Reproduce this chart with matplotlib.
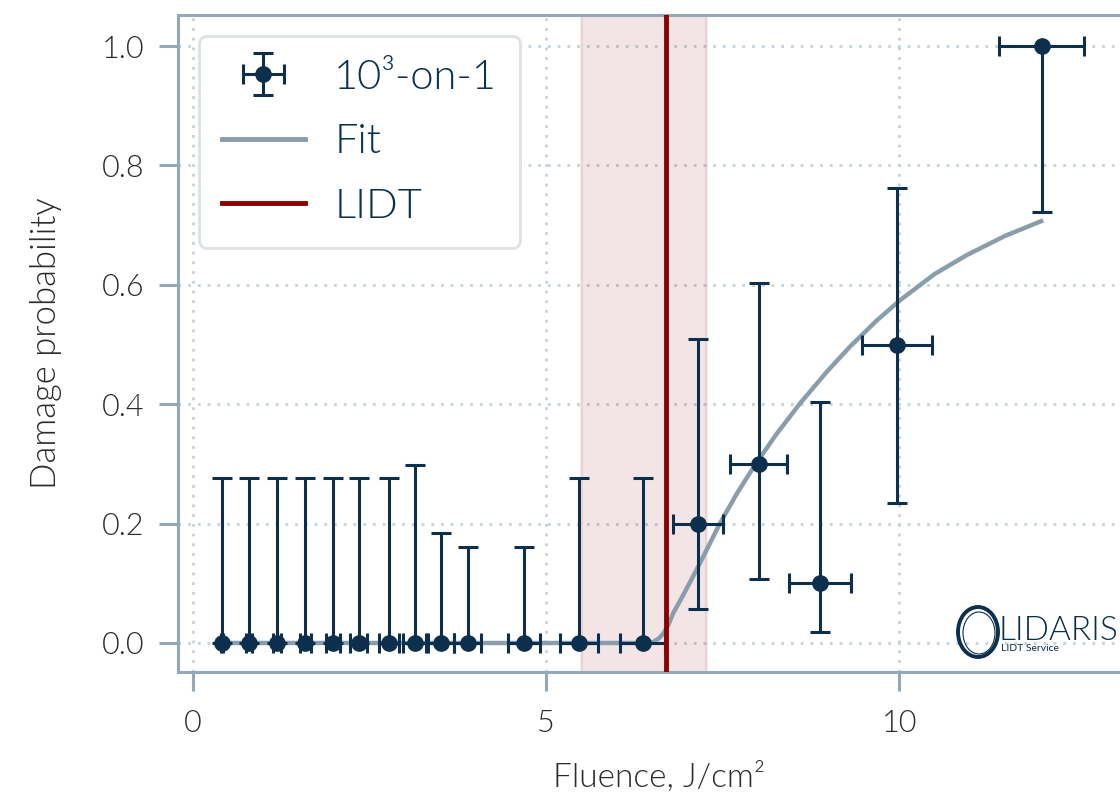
import matplotlib
matplotlib.use('Agg')
import matplotlib.pyplot as plt
from matplotlib.patches import Ellipse
from matplotlib.lines import Line2D
import numpy as np

plt.rcParams['font.family'] = ['Lato', 'DejaVu Sans']
plt.rcParams['font.weight'] = 300
plt.rcParams['axes.labelweight'] = 300

# measured points
fluence = np.array([0.41, 0.79, 1.19, 1.59, 1.98, 2.35, 2.77, 3.14, 3.51, 3.89,
                    4.69, 5.47, 6.37, 7.15, 8.01, 8.88, 9.97, 12.02])
prob = np.array([0, 0, 0, 0, 0, 0, 0, 0, 0, 0, 0, 0, 0, 0.2, 0.3, 0.1, 0.5, 1.0])
prob_hi = np.array([0.277, 0.277, 0.277, 0.277, 0.277, 0.277, 0.277, 0.298, 0.184, 0.160,
                    0.160, 0.277, 0.277, 0.509, 0.603, 0.403, 0.762, 1.0])
prob_lo = np.array([0, 0, 0, 0, 0, 0, 0, 0, 0, 0, 0, 0, 0, 0.057, 0.108, 0.018, 0.235, 0.722])
fluence_err = np.array([0.02, 0.04, 0.06, 0.08, 0.10, 0.12, 0.14, 0.16, 0.18, 0.19,
                        0.23, 0.27, 0.32, 0.36, 0.40, 0.44, 0.50, 0.60])

# fit curve
fit_x = [0.41, 6.40, 6.52, 6.60, 6.66, 6.73, 6.80, 6.94, 7.15, 7.46, 7.70, 7.94,
         8.25, 8.60, 8.98, 9.30, 9.68, 10.01, 10.50, 10.96, 11.50, 12.04]
fit_y = [0, 0, 0.002, 0.008, 0.016, 0.030, 0.050, 0.080, 0.127, 0.200, 0.250, 0.295,
         0.348, 0.402, 0.455, 0.496, 0.540, 0.574, 0.618, 0.650, 0.682, 0.708]

lidt = 6.70
lidt_lo, lidt_hi = 5.49, 7.26

navy = '#0b2f4c'
fitcol = '#8a9dab'
red = '#8b0000'
spine = '#93a9b8'
gridcol = '#c5d2da'
txt = '#2b2b2b'

fig = plt.figure(figsize=(11.2, 8.01), dpi=100)
ax = fig.add_axes([178/1120, (801-672)/801, (1140-178)/1120, (672-15)/801])

ax.axvspan(lidt_lo, lidt_hi, color=red, alpha=0.1, lw=2, zorder=1)
fit_line, = ax.plot(fit_x, fit_y, color=fitcol, lw=3.2, zorder=2,
                    solid_capstyle='butt', solid_joinstyle='round')
eb = ax.errorbar(fluence, prob, yerr=[prob - prob_lo, prob_hi - prob], xerr=fluence_err,
                 fmt='o', color=navy, ms=11, elinewidth=2.2, capsize=7.5, capthick=2.2, zorder=3)
lidt_line = ax.axvline(lidt, color=red, lw=3.5, zorder=4)

ax.set_xlim(-0.2125, 13.41)
ax.set_ylim(-0.0486, 1.052)
ax.set_xticks([0, 5, 10])
ax.set_yticks([0.0, 0.2, 0.4, 0.6, 0.8, 1.0])
ax.set_yticklabels(['0.0', '0.2', '0.4', '0.6', '0.8', '1.0'])
ax.grid(True, color=gridcol, lw=2, ls=(0, (1, 2.5)), zorder=0)
ax.set_axisbelow(True)

for s in ax.spines.values():
    s.set_color(spine)
    s.set_linewidth(2.2)
ax.tick_params(length=14, width=2.2, color=spine, labelsize=22, labelcolor=txt, pad=10)
ax.tick_params(axis='x', pad=13)

ax.set_xlabel('Fluence, J/cm²', fontsize=24, color=txt, labelpad=17)
ax.set_ylabel('Damage probability', fontsize=25, color=txt, labelpad=29)

handles = [eb,
           Line2D([], [], color=fitcol, lw=3.5),
           Line2D([], [], color=red, lw=3.5)]
leg = ax.legend(handles, ['10³-on-1', 'Fit', 'LIDT'], loc='upper left', fontsize=30,
                labelcolor=navy, framealpha=1, edgecolor='#dde2e4', fancybox=True,
                borderpad=0.55, labelspacing=0.66, handletextpad=0.7)
leg.get_frame().set_linewidth(2)
leg.set_zorder(5)

# logo
fig.patches.append(Ellipse((978/1120, 1 - 632/801), 40/1120, 50/801, transform=fig.transFigure,
                           fill=False, edgecolor=navy, lw=2.8, zorder=6))
fig.patches.append(Ellipse((979/1120, 1 - 633/801), 32/1120, 42/801, transform=fig.transFigure,
                           fill=False, edgecolor=navy, lw=0.8, zorder=6))
fig.text(999/1120, 1 - 640/801, 'LIDARIS', fontsize=24, color=navy, ha='left', va='baseline')
fig.text(1001/1120, 1 - 651/801, 'LIDT Service', fontsize=7.5, color=navy, ha='left', va='baseline',
         fontweight='normal')

fig.savefig('out.png', dpi=100)
